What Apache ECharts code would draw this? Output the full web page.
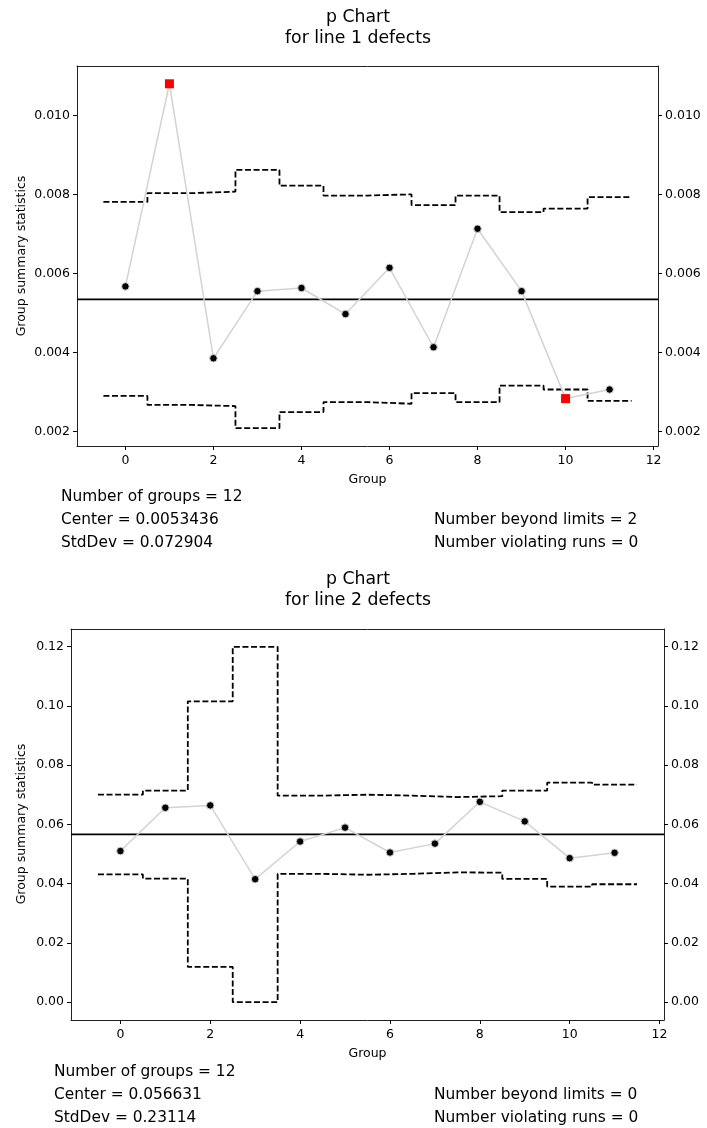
<!DOCTYPE html>
<html>
<head>
<meta charset="utf-8">
<script src="https://cdn.jsdelivr.net/npm/echarts@6/dist/echarts.min.js"></script>
<style>html,body{margin:0;padding:0;background:#fff}#c{width:707px;height:1128px}</style>
</head>
<body>
<div id="c"></div>
<script>
// ---- Data ----
const groups = [0,1,2,3,4,5,6,7,8,9,10,11];
const xTicks = [0,2,4,6,8,10,12];

const p1 = [0.00567,0.0108,0.00385,0.00555,0.00563,0.00497,0.00614,0.00413,0.00713,0.00555,0.00283,0.00306];
const ucl1 = [0.00781,0.00803,0.00807,0.00862,0.00822,0.00797,0.00800,0.00773,0.00797,0.00755,0.00764,0.00793];
const lcl1 = [0.00290,0.00267,0.00264,0.00208,0.00249,0.00274,0.00270,0.00297,0.00274,0.00316,0.00306,0.00277];
const center1 = 0.0053436;
const yTicks1 = [0.002,0.004,0.006,0.008,0.010];
const stats1 = {groups:'12', center:'0.0053436', sd:'0.072904', beyond:'2', runs:'0'};

const p2 = [0.0510,0.0656,0.0664,0.0415,0.0542,0.0589,0.0505,0.0535,0.0676,0.0610,0.0486,0.0504];
const ucl2 = [0.0700,0.0714,0.1015,0.1199,0.0697,0.0700,0.0697,0.0692,0.0695,0.0714,0.0741,0.0734];
const lcl2 = [0.0431,0.0417,0.0119,0.0000,0.0433,0.0430,0.0433,0.0438,0.0437,0.0416,0.0390,0.0398];
const center2 = 0.056631;
const yTicks2 = [0,0.02,0.04,0.06,0.08,0.10,0.12];
const stats2 = {groups:'12', center:'0.056631', sd:'0.23114', beyond:'0', runs:'0'};

// ---- Build ----
const FONT = 'DejaVu Sans';
const X_MIN = -1.1, X_MAX = 12.1;
function stepData(vals){
  const out = [];
  vals.forEach((v,i)=>{ out.push([groups[i]-0.5, v]); out.push([groups[i]+0.5, v]); });
  return out;
}
function pointData(p, ucl, lcl){
  return p.map((v,i)=>{
    const out = v > ucl[i] || v < lcl[i];
    return out ? {value:[groups[i], v], symbol:'rect', symbolSize:9, itemStyle:{color:'#ff0000', borderWidth:0}}
               : {value:[groups[i], v], symbol:'circle', symbolSize:7.5, itemStyle:{color:'#000', borderColor:'#d3d3d3', borderWidth:1}};
  });
}
const axisLineStyle = {show:true, onZero:false, lineStyle:{color:'#222', width:1}};
function xAxis(gi){
  return {type:'value', gridIndex:gi, min:X_MIN, max:X_MAX,
    axisLine:axisLineStyle, splitLine:{show:false},
    axisTick:{show:true, customValues:xTicks, length:4, lineStyle:{color:'#000'}},
    axisLabel:{customValues:xTicks, color:'#000', fontFamily:FONT, fontSize:12.5, margin:8},
    name:'Group', nameLocation:'middle', nameGap:27, nameTextStyle:{color:'#000', fontFamily:FONT, fontSize:12.5}};
}
function yAxis(gi, pos, min, max, ticks, dec){
  return {type:'value', gridIndex:gi, position:pos, min:min, max:max,
    axisLine:axisLineStyle, splitLine:{show:false},
    axisTick:{show:true, customValues:ticks, length:4, lineStyle:{color:'#000'}},
    axisLabel:{customValues:ticks, color:'#000', fontFamily:FONT, fontSize:12.5, margin:7,
      formatter:(v)=>Number(v).toFixed(dec)}};
}
function seriesFor(gi, yi, p, ucl, lcl, center){
  const dash = {color:'#000', width:1.8, type:[6,2.6]};
  return [
    {type:'line', xAxisIndex:gi, yAxisIndex:yi, data:[[X_MIN, center],[X_MAX, center]], showSymbol:false,
      lineStyle:{color:'#000', width:1.8}, z:2, silent:true},
    {type:'line', xAxisIndex:gi, yAxisIndex:yi, data:stepData(ucl), showSymbol:false, lineStyle:dash, z:3, silent:true},
    {type:'line', xAxisIndex:gi, yAxisIndex:yi, data:stepData(lcl), showSymbol:false, lineStyle:dash, z:3, silent:true},
    {type:'line', xAxisIndex:gi, yAxisIndex:yi, data:pointData(p, ucl, lcl), lineStyle:{color:'#d3d3d3', width:1.5},
      z:4, silent:true}
  ];
}
function txt(x,y,s,opt){
  return {type:'text', x:x, y:y, style:Object.assign({text:s, fill:'#000', font:'15.4px "DejaVu Sans"', textAlign:'left', textVerticalAlign:'middle'}, opt||{})};
}
const graphics = [
  txt(358,18,'p Chart',{font:'17.3px "DejaVu Sans"', textAlign:'center'}),
  txt(358,39,'for line 1 defects',{font:'17.3px "DejaVu Sans"', textAlign:'center'}),
  {type:'text', x:22, y:256, rotation:Math.PI/2, style:{text:'Group summary statistics', fill:'#000', font:'12.5px "DejaVu Sans"', textAlign:'center', textVerticalAlign:'middle'}},
  txt(61,497,'Number of groups = '+stats1.groups),
  txt(61,520,'Center = '+stats1.center),
  txt(61,543,'StdDev = '+stats1.sd),
  txt(434,520,'Number beyond limits = '+stats1.beyond),
  txt(434,543,'Number violating runs = '+stats1.runs),

  txt(358,580,'p Chart',{font:'17.3px "DejaVu Sans"', textAlign:'center'}),
  txt(358,601,'for line 2 defects',{font:'17.3px "DejaVu Sans"', textAlign:'center'}),
  {type:'text', x:22, y:824, rotation:Math.PI/2, style:{text:'Group summary statistics', fill:'#000', font:'12.5px "DejaVu Sans"', textAlign:'center', textVerticalAlign:'middle'}},
  txt(54,1072,'Number of groups = '+stats2.groups),
  txt(54,1095,'Center = '+stats2.center),
  txt(54,1118,'StdDev = '+stats2.sd),
  txt(434,1095,'Number beyond limits = '+stats2.beyond),
  txt(434,1118,'Number violating runs = '+stats2.runs)
];

const chart = echarts.init(document.getElementById('c'), null, {renderer:'canvas'});
chart.setOption({
  animation:false,
  backgroundColor:'#fff',
  textStyle:{fontFamily:FONT},
  grid:[
    {left:77, top:66, width:581, height:380, show:false},
    {left:71, top:629, width:593, height:391, show:false}
  ],
  xAxis:[xAxis(0), xAxis(1),
    {type:'value', gridIndex:0, position:'top', min:X_MIN, max:X_MAX, axisLine:axisLineStyle, axisTick:{show:false}, axisLabel:{show:false}, splitLine:{show:false}},
    {type:'value', gridIndex:1, position:'top', min:X_MIN, max:X_MAX, axisLine:axisLineStyle, axisTick:{show:false}, axisLabel:{show:false}, splitLine:{show:false}}
  ],
  yAxis:[
    yAxis(0,'left',0.00163,0.01125,yTicks1,3),
    yAxis(0,'right',0.00163,0.01125,yTicks1,3),
    yAxis(1,'left',-0.006,0.1259,yTicks2,2),
    yAxis(1,'right',-0.006,0.1259,yTicks2,2)
  ],
  series:[].concat(seriesFor(0,0,p1,ucl1,lcl1,center1), seriesFor(1,2,p2,ucl2,lcl2,center2)),
  graphic:graphics
});
</script>
</body>
</html>
